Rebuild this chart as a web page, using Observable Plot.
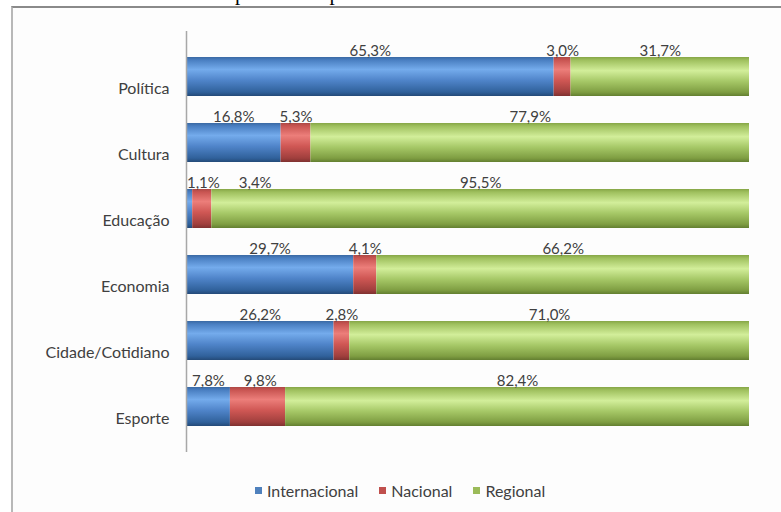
<!DOCTYPE html>
<html><head><meta charset="utf-8">
<script src="https://cdn.jsdelivr.net/npm/d3@7"></script>
<script src="https://cdn.jsdelivr.net/npm/@observablehq/plot@0.6"></script>
<style>
html,body{margin:0;padding:0;background:#fff;}
#page{position:relative;width:781px;height:512px;overflow:hidden;font-family:Lato,sans-serif;}
#frame{position:absolute;left:11px;top:6px;width:800px;height:520px;border-left:2px solid #b8b8b8;border-top:2px solid #8a8a8a;background:#fdfdfd;}
#title{position:absolute;top:-17px;left:0;width:805px;text-align:center;font-family:"Liberation Serif",serif;font-size:21px;line-height:20px;color:#000;white-space:nowrap;}
#chart{position:absolute;left:0;top:0;}
#legend{position:absolute;top:481px;left:255px;display:flex;gap:21px;font-size:16px;color:#404040;align-items:center;white-space:nowrap;}
#legend .it{display:flex;align-items:center;gap:5px;}
#legend .sw{width:7px;height:7px;display:inline-block;}
</style>
</head><body>
<div id="page">
  <div id="frame"></div>
  <div id="title">período na publicadas no Estado em SC</div>
  <div id="chart"></div>
  <div id="legend"></div>
</div>
<script>
const categories = ["Política", "Cultura", "Educação", "Economia", "Cidade/Cotidiano", "Esporte"];
const series = ["Internacional", "Nacional", "Regional"];
const internacional = [65.3, 16.8, 1.1, 29.7, 26.2, 7.8];
const nacional = [3.0, 5.3, 3.4, 4.1, 2.8, 9.8];
const regional = [31.7, 77.9, 95.5, 66.2, 71.0, 82.4];
const seriesValues = [internacional, nacional, regional];

const flatColors = {Internacional: "#4F81BD", Nacional: "#C0504D", Regional: "#9BBB59"};
const gradId = {Internacional: "gBlue", Nacional: "gRed", Regional: "gGreen"};
const gradStops = {
  gBlue: [[0, "#3a69a3"], [0.08, "#4a7fc2"], [0.32, "#74abec"], [0.6, "#4f84c9"], [0.9, "#30619b"], [1, "#244a78"]],
  gRed: [[0, "#ad4845"], [0.08, "#c95552"], [0.32, "#ec7e7a"], [0.6, "#cf5754"], [0.9, "#a03f3d"], [1, "#7f3130"]],
  gGreen: [[0, "#86a646"], [0.08, "#9fc05e"], [0.35, "#d2ee9a"], [0.62, "#a6c867"], [0.9, "#7f9e42"], [1, "#637f31"]]
};

const fmt = v => v.toFixed(1).replace(".", ",") + "%";

const rows = categories.flatMap((c, i) => series.map((s, j) => ({category: c, series: s, value: seriesValues[j][i]})));

// label positions: segment centers, nudged apart so they don't overlap (in % units)
const labels = [];
categories.forEach((c, i) => {
  let start = 0, prev = -Infinity;
  series.forEach((s, j) => {
    const v = seriesValues[j][i];
    let x = Math.max(start + v / 2, 3.0, prev + 9.2);
    labels.push({category: c, x, text: fmt(v)});
    prev = x;
    start += v;
  });
});

const chart = Plot.plot({
  width: 781,
  height: 470,
  marginLeft: 186,
  marginRight: 32,
  marginTop: 31,
  marginBottom: 18,
  style: {fontFamily: "Lato, sans-serif", fontSize: "15px", color: "#404040", background: "transparent", overflow: "visible"},
  x: {domain: [0, 100], axis: null},
  y: {domain: categories, range: [42.4, 439.6], paddingInner: 0.41, paddingOuter: 0.205, axis: null},
  color: {type: "identity"},
  marks: [
    Plot.barX(rows, Plot.stackX({x: "value", y: "category", z: "series", order: series, fill: d => `url(#${gradId[d.series]})`})),
    Plot.ruleX([0], {stroke: "#a8a8a8", strokeWidth: 1.5}),
    Plot.text(labels, {x: "x", y: "category", text: "text", dy: -26, fill: "#404040", fontSize: 15}),
    Plot.text(categories, {x: 0, y: d => d, text: d => d, textAnchor: "end", dx: -17, dy: 12, fill: "#404040", fontSize: 16})
  ]
});

const defs = d3.select(chart).insert("defs", ":first-child");
for (const [id, stops] of Object.entries(gradStops)) {
  const g = defs.append("linearGradient").attr("id", id).attr("x1", 0).attr("y1", 0).attr("x2", 0).attr("y2", 1);
  for (const [o, c] of stops) g.append("stop").attr("offset", o).attr("stop-color", c);
}
document.getElementById("chart").appendChild(chart);

const legend = d3.select("#legend");
for (const s of series) {
  const it = legend.append("div").attr("class", "it");
  it.append("span").attr("class", "sw").style("background", flatColors[s]);
  it.append("span").text(s);
}
</script>
</body></html>
